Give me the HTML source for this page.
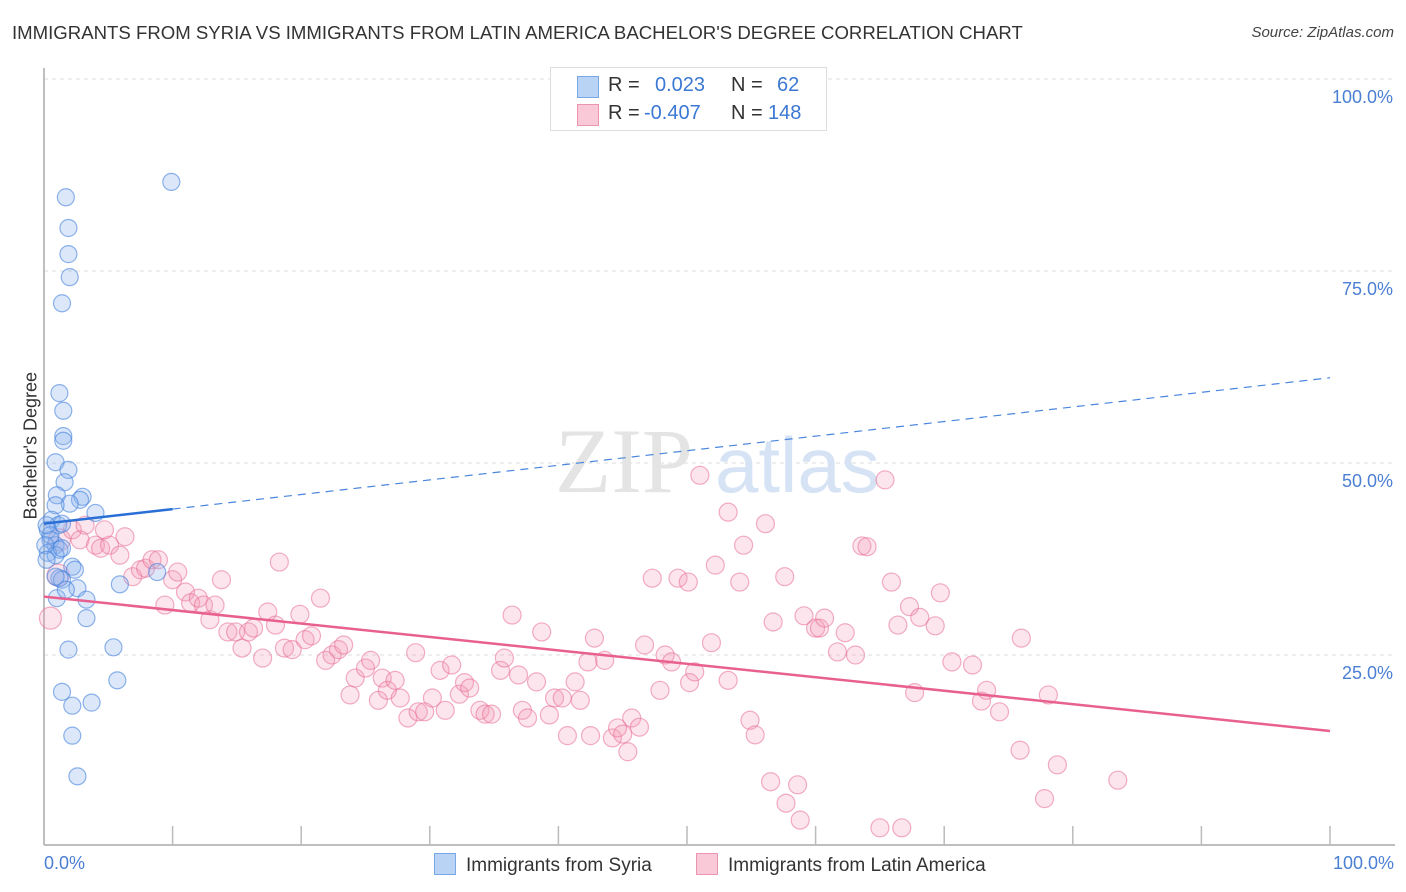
<!DOCTYPE html>
<html><head><meta charset="utf-8"><style>
body{margin:0;background:#fff;font-family:"Liberation Sans",sans-serif;}
#wrap{position:relative;width:1406px;height:892px;overflow:hidden;}
.t{position:absolute;white-space:nowrap;}
</style></head><body>
<div id="wrap">
<div class="t" style="left:12px;top:22px;font-size:18.6px;color:#333;">IMMIGRANTS FROM SYRIA VS IMMIGRANTS FROM LATIN AMERICA BACHELOR'S DEGREE CORRELATION CHART</div>
<div class="t" style="right:12px;top:24px;font-size:15px;color:#444;font-style:italic;">Source: ZipAtlas.com</div>
<svg id="plot" width="1406" height="892" style="position:absolute;left:0;top:0"></svg>
</div>
<script>
const yTicks=[25,50,75,100];
const yTickLabels=["25.0%","50.0%","75.0%","100.0%"];
const syriaX=[1.7,1.9,1.9,2.0,1.4,9.9,1.2,1.5,1.5,1.5,0.9,1.9,1.6,1.0,3.0,2.8,2.0,4.0,0.9,0.6,1.1,1.4,0.3,0.5,0.9,1.2,0.3,0.9,1.4,0.5,0.1,2.2,2.4,1.2,1.4,2.6,1.0,3.3,1.7,5.9,8.8,1.9,3.3,5.4,1.4,2.2,3.7,5.7,2.2,2.6,0.9,0.2,0.2];
const syriaY=[84.6,80.6,77.2,74.2,70.8,86.6,59.1,56.8,53.5,52.9,50.1,49.1,47.5,45.8,45.6,45.2,44.7,43.5,44.5,42.6,41.9,42.1,41.3,40.0,39.3,38.7,38.3,38.0,38.9,40.6,39.3,36.5,36.1,35.0,34.8,33.7,32.4,32.2,33.5,34.2,35.8,25.7,29.8,26.0,20.2,18.4,18.8,21.7,14.5,9.2,35.2,41.9,37.4];
const latamX=[0.5,1.1,1.2,2.2,3.2,2.8,4.0,4.4,5.1,4.7,5.9,6.3,6.9,7.5,7.9,8.4,8.9,9.4,10.0,10.4,11.0,11.4,12.0,12.4,12.9,13.3,13.8,14.3,14.9,15.4,15.9,16.3,17.0,17.4,18.0,18.3,18.7,19.3,19.9,20.3,20.8,21.5,21.9,22.4,22.9,23.3,23.8,24.2,25.0,25.4,26.0,26.3,26.7,27.3,27.7,28.3,28.9,29.1,29.6,30.2,30.8,31.2,31.7,32.3,32.7,33.1,33.9,34.3,34.8,35.5,35.8,36.4,36.9,37.2,37.6,38.3,38.7,39.3,39.7,40.3,40.7,41.3,41.7,42.3,42.5,42.8,43.6,44.2,44.6,45.0,45.4,45.7,46.3,46.7,47.3,47.9,48.3,48.8,49.3,50.1,50.2,50.6,51.0,51.9,52.2,53.2,53.2,54.1,54.4,54.9,55.3,56.1,56.5,56.7,57.6,57.7,58.6,58.8,59.1,60.0,60.3,60.7,61.7,62.3,63.1,63.6,64.0,65.0,65.4,65.9,66.4,66.7,67.3,67.7,68.1,69.3,69.7,70.6,72.2,72.9,73.3,74.3,75.9,76.0,77.8,78.1,78.8,83.5];
const latamY=[29.8,35.4,40.0,41.3,41.9,40.0,39.3,38.9,39.3,41.3,38.0,40.4,35.2,36.1,36.3,37.4,37.4,31.5,34.8,35.8,33.2,31.8,32.4,31.5,29.6,31.5,34.8,28.0,28.0,25.9,28.0,28.5,24.6,30.6,28.9,37.1,25.9,25.7,30.3,27.0,27.5,32.4,24.3,25.0,25.7,26.3,19.8,22.0,23.3,24.3,19.1,22.0,20.4,21.7,19.4,16.8,25.3,17.6,17.6,19.4,23.0,17.8,23.7,19.9,21.4,20.7,17.8,17.3,17.3,23.0,24.6,30.2,22.4,17.8,16.8,21.5,28.0,17.2,19.4,19.4,14.5,21.5,19.1,24.1,14.5,27.2,24.3,14.2,15.5,14.7,12.4,16.8,15.6,26.3,35.0,20.4,25.0,24.1,35.0,34.5,21.4,22.8,48.4,26.6,36.7,21.7,43.6,34.5,39.3,16.5,14.6,42.1,8.5,29.3,35.2,5.7,8.1,3.5,30.1,28.5,28.5,29.8,25.4,27.9,25.0,39.2,39.1,2.5,47.8,34.5,28.9,2.5,31.3,20.1,29.9,28.8,33.1,24.1,23.7,19.0,20.4,17.6,12.6,27.2,6.3,19.8,10.7,8.7];
const syriaTrend=[42.1,0.19];
const latamTrend=[32.6,-0.175];

const NS="http://www.w3.org/2000/svg";
const svg=document.getElementById('plot');
const X=v=>44+v*12.86;
const Y=v=>847-v*7.68;
function mk(tag,attrs,parent){const e=document.createElementNS(NS,tag);for(const k in attrs)e.setAttribute(k,attrs[k]);(parent||svg).appendChild(e);return e;}

yTicks.forEach((t,i)=>{
  const g=mk('line',{x1:44,x2:1395,y1:Y(t),y2:Y(t),stroke:'#ddd','stroke-dasharray':'4,4'});
  
  
  const tx=mk('text',{x:1393,y:Y(t)+24,'text-anchor':'end','font-size':18,fill:'#4a7fd4','font-family':'Liberation Sans, sans-serif'});
  tx.textContent=yTickLabels[i];
  
  
});
const wm=mk('text',{x:555,y:492,'font-size':92,fill:'#e4e4e4','font-family':'Liberation Serif, serif'});wm.textContent='ZIP';


const wm2=mk('text',{x:715,y:492,'font-size':78,fill:'#d6e3f5','font-family':'Liberation Sans, sans-serif'});wm2.textContent='atlas';


const ax=mk('line',{x1:44,x2:1395,y1:845,y2:845,stroke:'#aaa','stroke-width':1.5});


const ay=mk('line',{x1:44,x2:44,y1:68,y2:845,stroke:'#aaa','stroke-width':1.5});


for(let i=1;i<=10;i++){const tk=mk('line',{x1:X(i*10),x2:X(i*10),y1:826,y2:845,stroke:'#bbb','stroke-width':1.5});

}
latamX.forEach((x,i)=>{const c=mk('circle',{cx:X(x),cy:Y(latamY[i]),r:(x<2?11:9),fill:'rgba(244,150,180,0.25)',stroke:'rgba(232,110,150,0.55)','stroke-width':1.2});

});
syriaX.forEach((x,i)=>{const c=mk('circle',{cx:X(x),cy:Y(syriaY[i]),r:8.5,fill:'rgba(140,180,240,0.3)',stroke:'rgba(70,130,220,0.6)','stroke-width':1.2});

});
const ts=mk('line',{x1:X(0),y1:Y(syriaTrend[0]),x2:X(10),y2:Y(syriaTrend[0]+10*syriaTrend[1]),stroke:'#2a6fd6','stroke-width':2.5});


const td=mk('line',{x1:X(10),y1:Y(syriaTrend[0]+10*syriaTrend[1]),x2:X(100),y2:Y(syriaTrend[0]+100*syriaTrend[1]),stroke:'#4a86dd','stroke-width':1.2,'stroke-dasharray':'8,6'});


const tl=mk('line',{x1:X(0),y1:Y(latamTrend[0]),x2:X(100),y2:Y(latamTrend[0]+100*latamTrend[1]),stroke:'#e8608f','stroke-width':2.5});


</script>
<div class="t" style="left:-34px;top:444px;font-size:18px;color:#333;transform:rotate(-90deg);transform-origin:center;width:130px;text-align:center;">Bachelor's Degree</div>
<div class="t" style="left:44px;top:853px;font-size:18px;color:#4a7fd4;">0.0%</div>
<div class="t" style="right:12px;top:853px;font-size:18px;color:#4a7fd4;">100.0%</div>
<div style="position:absolute;left:550px;top:67px;width:275px;height:62px;border:1px solid #ddd;background:#fff;font-size:20px;">
 <div style="position:absolute;left:26px;top:8px;width:20px;height:20px;background:#b9d3f5;border:1px solid #7aa8e6"></div>
 <div class="t" style="left:57px;top:6px;color:#333">R =</div><div class="t" style="left:104px;top:6px;color:#3b78d4">0.023</div>
 <div class="t" style="left:180px;top:6px;color:#333">N =</div><div class="t" style="left:226px;top:6px;color:#3b78d4">62</div>
 <div style="position:absolute;left:26px;top:36px;width:20px;height:20px;background:#f9c9d8;border:1px solid #ec94b2"></div>
 <div class="t" style="left:57px;top:34px;color:#333">R =</div><div class="t" style="left:93px;top:34px;color:#3b78d4">-0.407</div>
 <div class="t" style="left:180px;top:34px;color:#333">N =</div><div class="t" style="left:217px;top:34px;color:#3b78d4">148</div>
</div>
<div style="position:absolute;left:434px;top:853px;font-size:19px;color:#333;">
 <span style="display:inline-block;width:20px;height:20px;background:#b9d3f5;border:1px solid #7aa8e6;vertical-align:-4px;margin-right:10px"></span>Immigrants from Syria</div>
<div style="position:absolute;left:696px;top:853px;font-size:19px;color:#333;">
 <span style="display:inline-block;width:20px;height:20px;background:#f9c9d8;border:1px solid #ec94b2;vertical-align:-4px;margin-right:10px"></span>Immigrants from Latin America</div>
</body></html>
